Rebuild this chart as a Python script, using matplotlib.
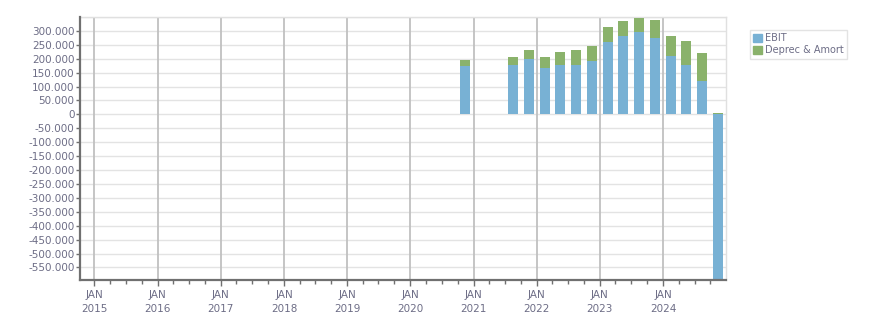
import matplotlib
matplotlib.use("Agg")
import matplotlib.pyplot as plt
import matplotlib.dates as mdates
from matplotlib.ticker import FixedLocator, FuncFormatter
from matplotlib.patches import Patch
import datetime as dt

quarters = ["2020Q4", "2021Q3", "2021Q4", "2022Q1", "2022Q2", "2022Q3", "2022Q4",
            "2023Q1", "2023Q2", "2023Q3", "2023Q4", "2024Q1", "2024Q2", "2024Q3", "2024Q4"]
ebit = [174000, 176000, 198000, 167000, 176000, 176000, 191000,
        260000, 282000, 295000, 275000, 210000, 176000, 119000, -595000]
deprec_amort = [20000, 32000, 32000, 38000, 50000, 54000, 54000,
                53000, 53000, 50000, 64000, 71000, 86000, 101000, 5000]
years = list(range(2015, 2025))

BLUE = "#78b1d4"
GREEN = "#8ab26b"
TXT = "#6d6d86"

def q_mid(q):
    y = int(q[:4]); n = int(q[-1])
    return dt.date(y, 3 * (n - 1) + 2, 15)

x = [mdates.date2num(q_mid(q)) for q in quarters]
width = 58

fig = plt.figure(figsize=(8.76, 3.13), dpi=100)
ax = fig.add_axes([80/876, 33/313, 646/876, 263/313])

ax.bar(x, ebit, width=width, color=BLUE, zorder=3, label="EBIT")
bottoms = [e if e > 0 else 0 for e in ebit]
ax.bar(x, deprec_amort, width=width, bottom=bottoms, color=GREEN, zorder=3, label="Deprec & Amort")

ax.set_xlim(mdates.date2num(dt.date(2014, 10, 10)), mdates.date2num(dt.date(2024, 12, 30)))
ax.set_ylim(-595000, 350000)

yt = list(range(-550000, 300001, 50000))
ax.yaxis.set_major_locator(FixedLocator(yt))
ax.yaxis.set_major_formatter(FuncFormatter(lambda v, p: f"{v:,.0f}".replace(",", ".")))
for v in range(-550000, 350001, 50000):
    ax.axhline(v, color="#e3e3e3", lw=1, zorder=1)

major = [mdates.date2num(dt.date(y, 1, 1)) for y in years]
minor = [mdates.date2num(dt.date(y, m, 1)) for y in range(2014, 2025) for m in (1, 4, 7, 10)]
ax.xaxis.set_major_locator(FixedLocator(major))
ax.xaxis.set_minor_locator(FixedLocator(minor))
ax.set_xticklabels([f"JAN\n{y}" for y in years], linespacing=1.5)
for m in major:
    ax.axvline(m, color="#c0c0c0", lw=1.3, zorder=2)

ax.tick_params(axis="y", direction="out", length=3, width=1, color="#707070",
               labelsize=7.5, labelcolor=TXT, pad=1)
ax.tick_params(axis="x", which="major", direction="out", length=4, width=1, color="#707070",
               labelsize=7.5, labelcolor=TXT, pad=3)
ax.tick_params(axis="x", which="minor", direction="out", length=3, width=1, color="#707070")
for lab in ax.get_xticklabels():
    lab.set_ha("center")

for s in ("left", "bottom"):
    ax.spines[s].set_color("#707070")
    ax.spines[s].set_linewidth(1.6)
for s in ("top", "right"):
    ax.spines[s].set_color("#e0e0e0")
    ax.spines[s].set_linewidth(1)
ax.spines["left"].set_zorder(4)
ax.spines["bottom"].set_zorder(4)

handles = [Patch(color=BLUE, label="EBIT"), Patch(color=GREEN, label="Deprec & Amort")]
leg = fig.legend(handles=handles, loc="upper left", bbox_to_anchor=(750/876, 1 - 30/313),
                 fontsize=7, frameon=True, fancybox=False, borderpad=0.35,
                 handlelength=0.9, handleheight=0.9, handletextpad=0.3, labelspacing=0.2,
                 borderaxespad=0)
leg.get_frame().set_edgecolor("#dcdcdc")
leg.get_frame().set_linewidth(1)
for t in leg.get_texts():
    t.set_color(TXT)

fig.savefig("out.png", dpi=100)
